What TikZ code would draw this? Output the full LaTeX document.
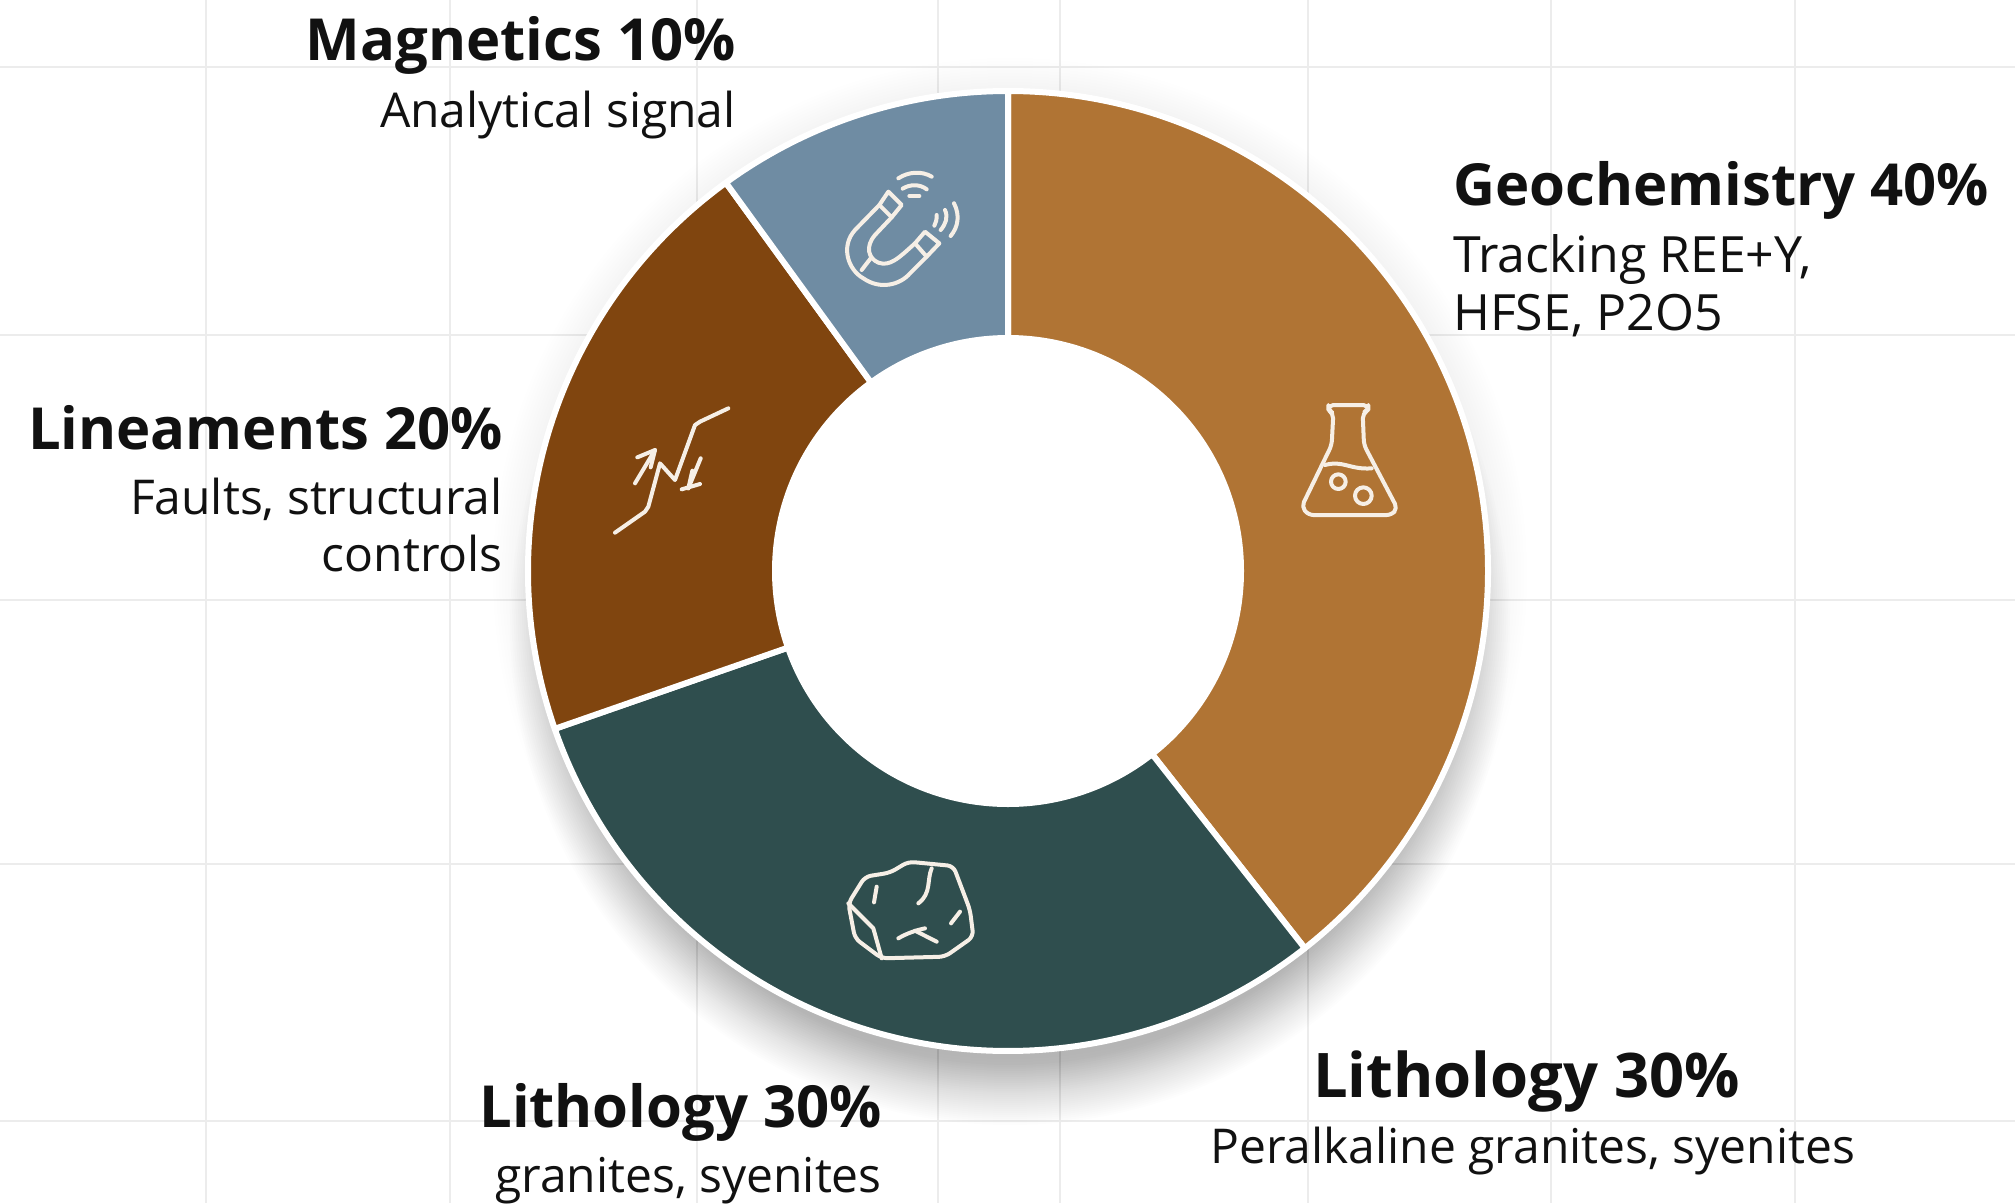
\documentclass[tikz,border=0pt]{standalone}
\usepackage{fontspec}
\setmainfont{Open Sans}
\definecolor{geo}{HTML}{B07434}
\definecolor{lit}{HTML}{2F4E4E}
\definecolor{lin}{HTML}{80450F}
\definecolor{mag}{HTML}{6F8CA3}
\definecolor{gridc}{HTML}{ECECEC}
\definecolor{ink}{HTML}{111111}
\definecolor{iconw}{HTML}{F6EFE6}
\tikzset{
 vgrid/.style={gridc,line width=1.6pt},
 hgrid/.style={gridc,line width=2.4pt},
 sector/.style={draw=white,line width=6pt,line join=round},
 icon/.style={draw=iconw,line width=4pt,line cap=round,line join=round},
 zoomed/.style={x=0.33333pt,y=-0.33333pt},
 head/.style={inner sep=0pt,font=\fontsize{58}{60}\selectfont\bfseries,text=ink},
 headbig/.style={inner sep=0pt,font=\fontsize{61.5}{64}\selectfont\bfseries,text=ink},
 sub/.style={inner sep=0pt,font=\fontsize{48}{58}\selectfont,text=ink},
 subwide/.style={inner sep=0pt,font=\fontsize{50}{58}\selectfont,text=ink},
}
\newcommand\seg[3]{\filldraw[sector,fill=#3] (#1:480) arc[start angle=#1,end angle=#2,radius=480] -- (#2:233) arc[start angle=#2,end angle=#1,radius=233] -- cycle;}
\begin{document}
\begin{tikzpicture}[x=1pt,y=-1pt]
\useasboundingbox (0,0) rectangle (2015,1203);
\fill[white] (0,0) rectangle (2015,1203);
\foreach \x in {206,450,697,938,1060,1308,1551,1795} \draw[vgrid] (\x,0) -- (\x,1203);
\foreach \y in {67,335,600,864,1121} \draw[hgrid] (0,\y) -- (2015,\y);
% soft shadow: faint halo, then a heavier one pushed downwards
\foreach \r in {484,487,...,517}
  \fill[black,opacity=.005] (1010,575) circle[radius=\r];
\foreach \r in {440,442,...,500}
  \fill[black,opacity=.007] (1010,625) circle[radius=\r];
\begin{scope}[shift={(1008,571)}]
\seg{270}{411.8}{geo}
\seg{51.8}{160.8}{lit}
\seg{160.8}{234}{lin}
\seg{234}{270}{mag}
\fill[white] (0,0) circle[radius=233];
\end{scope}
% flask
\begin{scope}[shift={(1260,380)},zoomed]
\draw[icon,rounded corners=5pt] (205,75) -- (325,75) -- (325,90) -- (308,100) -- (312,195) -- (412,385) -- (395,405) -- (145,405) -- (125,380) -- (215,195) -- (220,100) -- (205,90) -- cycle;
\draw[icon] (195,255) .. controls (250,240) and (270,270) .. (335,265);
\draw[icon] (235,305) circle[radius=22];
\draw[icon] (310,347) circle[radius=25];
\end{scope}
% magnet
\begin{scope}[shift={(780,130)},zoomed]
\draw[icon] (325,185) -- (365,225) -- (335,262) -- (298,225) -- cycle;
\draw[icon] (435,305) -- (478,340) -- (440,380) -- (405,340) -- cycle;
\draw[icon] (298,225) -- (225,300) .. controls (180,350) and (205,420) .. (250,445) .. controls (300,480) and (360,465) .. (390,430) -- (440,380);
\draw[icon] (335,262) -- (285,315) .. controls (255,350) and (265,385) .. (295,398) .. controls (330,410) and (355,385) .. (405,340);
\draw[icon] (272,385) -- (245,420);
\draw[icon] (355,145) .. controls (385,125) and (425,122) .. (455,140);
\draw[icon] (368,176) .. controls (390,162) and (420,162) .. (440,178);
\draw[icon] (388,198) -- (418,198);
\draw[icon] (522,220) .. controls (540,255) and (535,290) .. (512,318);
\draw[icon] (495,240) .. controls (505,262) and (497,282) .. (482,300);
\draw[icon] (470,255) .. controls (470,270) and (468,278) .. (463,287);
\end{scope}
% fault
\begin{scope}[shift={(580,380)},zoomed]
\draw[icon] (105,458) -- (195,395) -- (205,380) -- (240,250) -- (285,300) -- (345,135) -- (360,125) -- (445,85);
\draw[icon] (165,310) -- (225,210);
\draw[icon] (172,232) -- (225,210) -- (212,262);
\draw[icon] (362,235) -- (325,325);
\draw[icon] (305,328) -- (360,312);
\draw[icon] (325,325) -- (337,272);
\end{scope}
% rock
\begin{scope}[shift={(820,840)},zoomed]
\draw[icon,rounded corners=6pt] (85,190) -- (135,110) -- (210,98) -- (265,65) -- (400,78) -- (450,210) -- (460,290) -- (375,350) -- (185,355) -- (105,295) -- cycle;
\draw[icon] (85,190) -- (160,265) -- (185,355);
\draw[icon] (335,85) .. controls (320,120) and (335,160) .. (295,190);
\draw[icon] (170,140) -- (162,187);
\draw[icon] (420,215) -- (393,250);
\draw[icon] (235,295) .. controls (260,280) and (290,270) .. (315,265);
\draw[icon] (285,272) -- (350,305);
\end{scope}
% labels
\node[head,anchor=base east] (magH) at (736,60) {Magnetics 10\%};
\node[sub,anchor=base east] (magS) at (736,127) {Analytical signal};
\node[head,anchor=base west] (geoH) at (1453,205) {Geochemistry 40\%};
\node[subwide,anchor=base west] (geoS1) at (1453,272) {Tracking REE+Y,};
\node[subwide,anchor=base west] (geoS2) at (1453,330) {HFSE, P2O5};
\node[head,anchor=base east] (linH) at (503,449) {Lineaments 20\%};
\node[sub,anchor=base east] (linS1) at (503,514) {Faults, structural};
\node[sub,anchor=base east] (linS2) at (503,571) {controls};
\node[head,anchor=base east] (litH) at (882,1127) {Lithology 30\%};
\node[sub,anchor=base east] (litS) at (882,1192) {granites, syenites};
\node[headbig,anchor=base west] (lit2H) at (1313,1097) {Lithology 30\%};
\node[sub,anchor=base west] (lit2S) at (1210,1163) {Peralkaline granites, syenites};
\end{tikzpicture}
\end{document}
